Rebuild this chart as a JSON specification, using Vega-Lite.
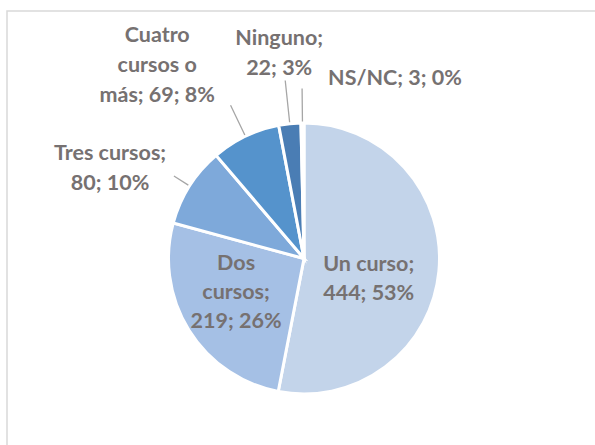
{
  "$schema": "https://vega.github.io/schema/vega-lite/v6.json",
  "width": 594,
  "height": 495,
  "autosize": {"type": "none"},
  "padding": {"left": 7, "top": 11, "right": 0, "bottom": 0},
  "background": "white",
  "datasets": {
    "cursos": [
      {"idx": 1, "cat": "Un curso", "n": 444, "label": "Un curso;\n444; 53%"},
      {"idx": 2, "cat": "Dos cursos", "n": 219, "label": "Dos\ncursos;\n219; 26%"},
      {"idx": 3, "cat": "Tres cursos", "n": 80, "label": "Tres cursos;\n80; 10%"},
      {"idx": 4, "cat": "Cuatro cursos o más", "n": 69, "label": "Cuatro\ncursos o\nmás; 69; 8%"},
      {"idx": 5, "cat": "Ninguno", "n": 22, "label": "Ninguno;\n22; 3%"},
      {"idx": 6, "cat": "NS/NC", "n": 3, "label": "NS/NC; 3; 0%"}
    ],
    "frame": [{"name": "chart area"}]
  },
  "data": {"name": "cursos"},
  "layer": [
    {
      "data": {"name": "frame"},
      "mark": {"type": "rect", "fill": null, "stroke": "#D9D9D9", "strokeWidth": 1.5},
      "encoding": {}
    },
    {
      "mark": {"type": "arc", "outerRadius": 135.5, "stroke": "white", "strokeWidth": 3},
      "encoding": {
        "theta": {"field": "n", "type": "quantitative", "stack": true},
        "order": {"field": "idx", "type": "quantitative"},
        "color": {
          "field": "cat", "type": "nominal", "legend": null,
          "scale": {
            "domain": ["Un curso", "Dos cursos", "Tres cursos", "Cuatro cursos o más", "Ninguno", "NS/NC"],
            "range": ["#C3D4EA", "#A5C0E5", "#7EA9DA", "#5593CC", "#4A7DB4", "#3D6A9A"]
          }
        }
      }
    },
    {
      "mark": {"type": "arc", "innerRadius": 137, "outerRadius": 154, "padAngle": 1, "fill": null, "stroke": "#A6A6A6", "strokeWidth": 1.3},
      "encoding": {
        "theta": {"field": "n", "type": "quantitative", "stack": true},
        "order": {"field": "idx", "type": "quantitative"},
        "detail": {"field": "cat"},
        "strokeOpacity": {"condition": {"test": "datum.idx == 3", "value": 1}, "value": 0}
      }
    },
    {
      "mark": {"type": "arc", "innerRadius": 137, "outerRadius": 170, "padAngle": 1, "fill": null, "stroke": "#A6A6A6", "strokeWidth": 1.3},
      "encoding": {
        "theta": {"field": "n", "type": "quantitative", "stack": true},
        "order": {"field": "idx", "type": "quantitative"},
        "detail": {"field": "cat"},
        "strokeOpacity": {"condition": {"test": "datum.idx == 4 || datum.idx == 6", "value": 1}, "value": 0}
      }
    },
    {
      "mark": {"type": "arc", "innerRadius": 137, "outerRadius": 179, "padAngle": 1, "fill": null, "stroke": "#A6A6A6", "strokeWidth": 1.3},
      "encoding": {
        "theta": {"field": "n", "type": "quantitative", "stack": true},
        "order": {"field": "idx", "type": "quantitative"},
        "detail": {"field": "cat"},
        "strokeOpacity": {"condition": {"test": "datum.idx == 5", "value": 1}, "value": 0}
      }
    },
    {
      "mark": {"type": "text", "radius": 65, "dy": 0, "font": "Lato", "fontWeight": "bold", "fontSize": 21.5, "fill": "#767171", "lineBreak": "\n", "lineHeight": 29, "align": "center", "baseline": "middle"},
      "encoding": {"theta": {"field": "n", "type": "quantitative", "stack": true}, "order": {"field": "idx", "type": "quantitative"}, "detail": {"field": "cat"}, "text": {"condition": {"test": "datum.idx == 1", "field": "label"}, "value": ""}}
    },
    {
      "mark": {"type": "text", "radius": 80, "dy": -37, "font": "Lato", "fontWeight": "bold", "fontSize": 21.5, "fill": "#767171", "lineBreak": "\n", "lineHeight": 29, "align": "center", "baseline": "middle"},
      "encoding": {"theta": {"field": "n", "type": "quantitative", "stack": true}, "order": {"field": "idx", "type": "quantitative"}, "detail": {"field": "cat"}, "text": {"condition": {"test": "datum.idx == 2", "field": "label"}, "value": ""}}
    },
    {
      "mark": {"type": "text", "radius": 213, "dx": -14, "dy": 10, "font": "Lato", "fontWeight": "bold", "fontSize": 21.5, "fill": "#767171", "lineBreak": "\n", "lineHeight": 30, "align": "center", "baseline": "middle"},
      "encoding": {"theta": {"field": "n", "type": "quantitative", "stack": true}, "order": {"field": "idx", "type": "quantitative"}, "detail": {"field": "cat"}, "text": {"condition": {"test": "datum.idx == 3", "field": "label"}, "value": ""}}
    },
    {
      "mark": {"type": "text", "radius": 238, "dx": -44, "dy": -8, "font": "Lato", "fontWeight": "bold", "fontSize": 21.5, "fill": "#767171", "lineBreak": "\n", "lineHeight": 30, "align": "center", "baseline": "middle"},
      "encoding": {"theta": {"field": "n", "type": "quantitative", "stack": true}, "order": {"field": "idx", "type": "quantitative"}, "detail": {"field": "cat"}, "text": {"condition": {"test": "datum.idx == 4", "field": "label"}, "value": ""}}
    },
    {
      "mark": {"type": "text", "radius": 208, "dx": -3, "dy": -13, "font": "Lato", "fontWeight": "bold", "fontSize": 21.5, "fill": "#767171", "lineBreak": "\n", "lineHeight": 30, "align": "center", "baseline": "middle"},
      "encoding": {"theta": {"field": "n", "type": "quantitative", "stack": true}, "order": {"field": "idx", "type": "quantitative"}, "detail": {"field": "cat"}, "text": {"condition": {"test": "datum.idx == 5", "field": "label"}, "value": ""}}
    },
    {
      "mark": {"type": "text", "radius": 180.5, "dx": 93, "dy": 1, "font": "Lato", "fontWeight": "bold", "fontSize": 21.5, "fill": "#767171", "lineBreak": "\n", "lineHeight": 29, "align": "center", "baseline": "middle"},
      "encoding": {"theta": {"field": "n", "type": "quantitative", "stack": true}, "order": {"field": "idx", "type": "quantitative"}, "detail": {"field": "cat"}, "text": {"condition": {"test": "datum.idx == 6", "field": "label"}, "value": ""}}
    }
  ]
}
